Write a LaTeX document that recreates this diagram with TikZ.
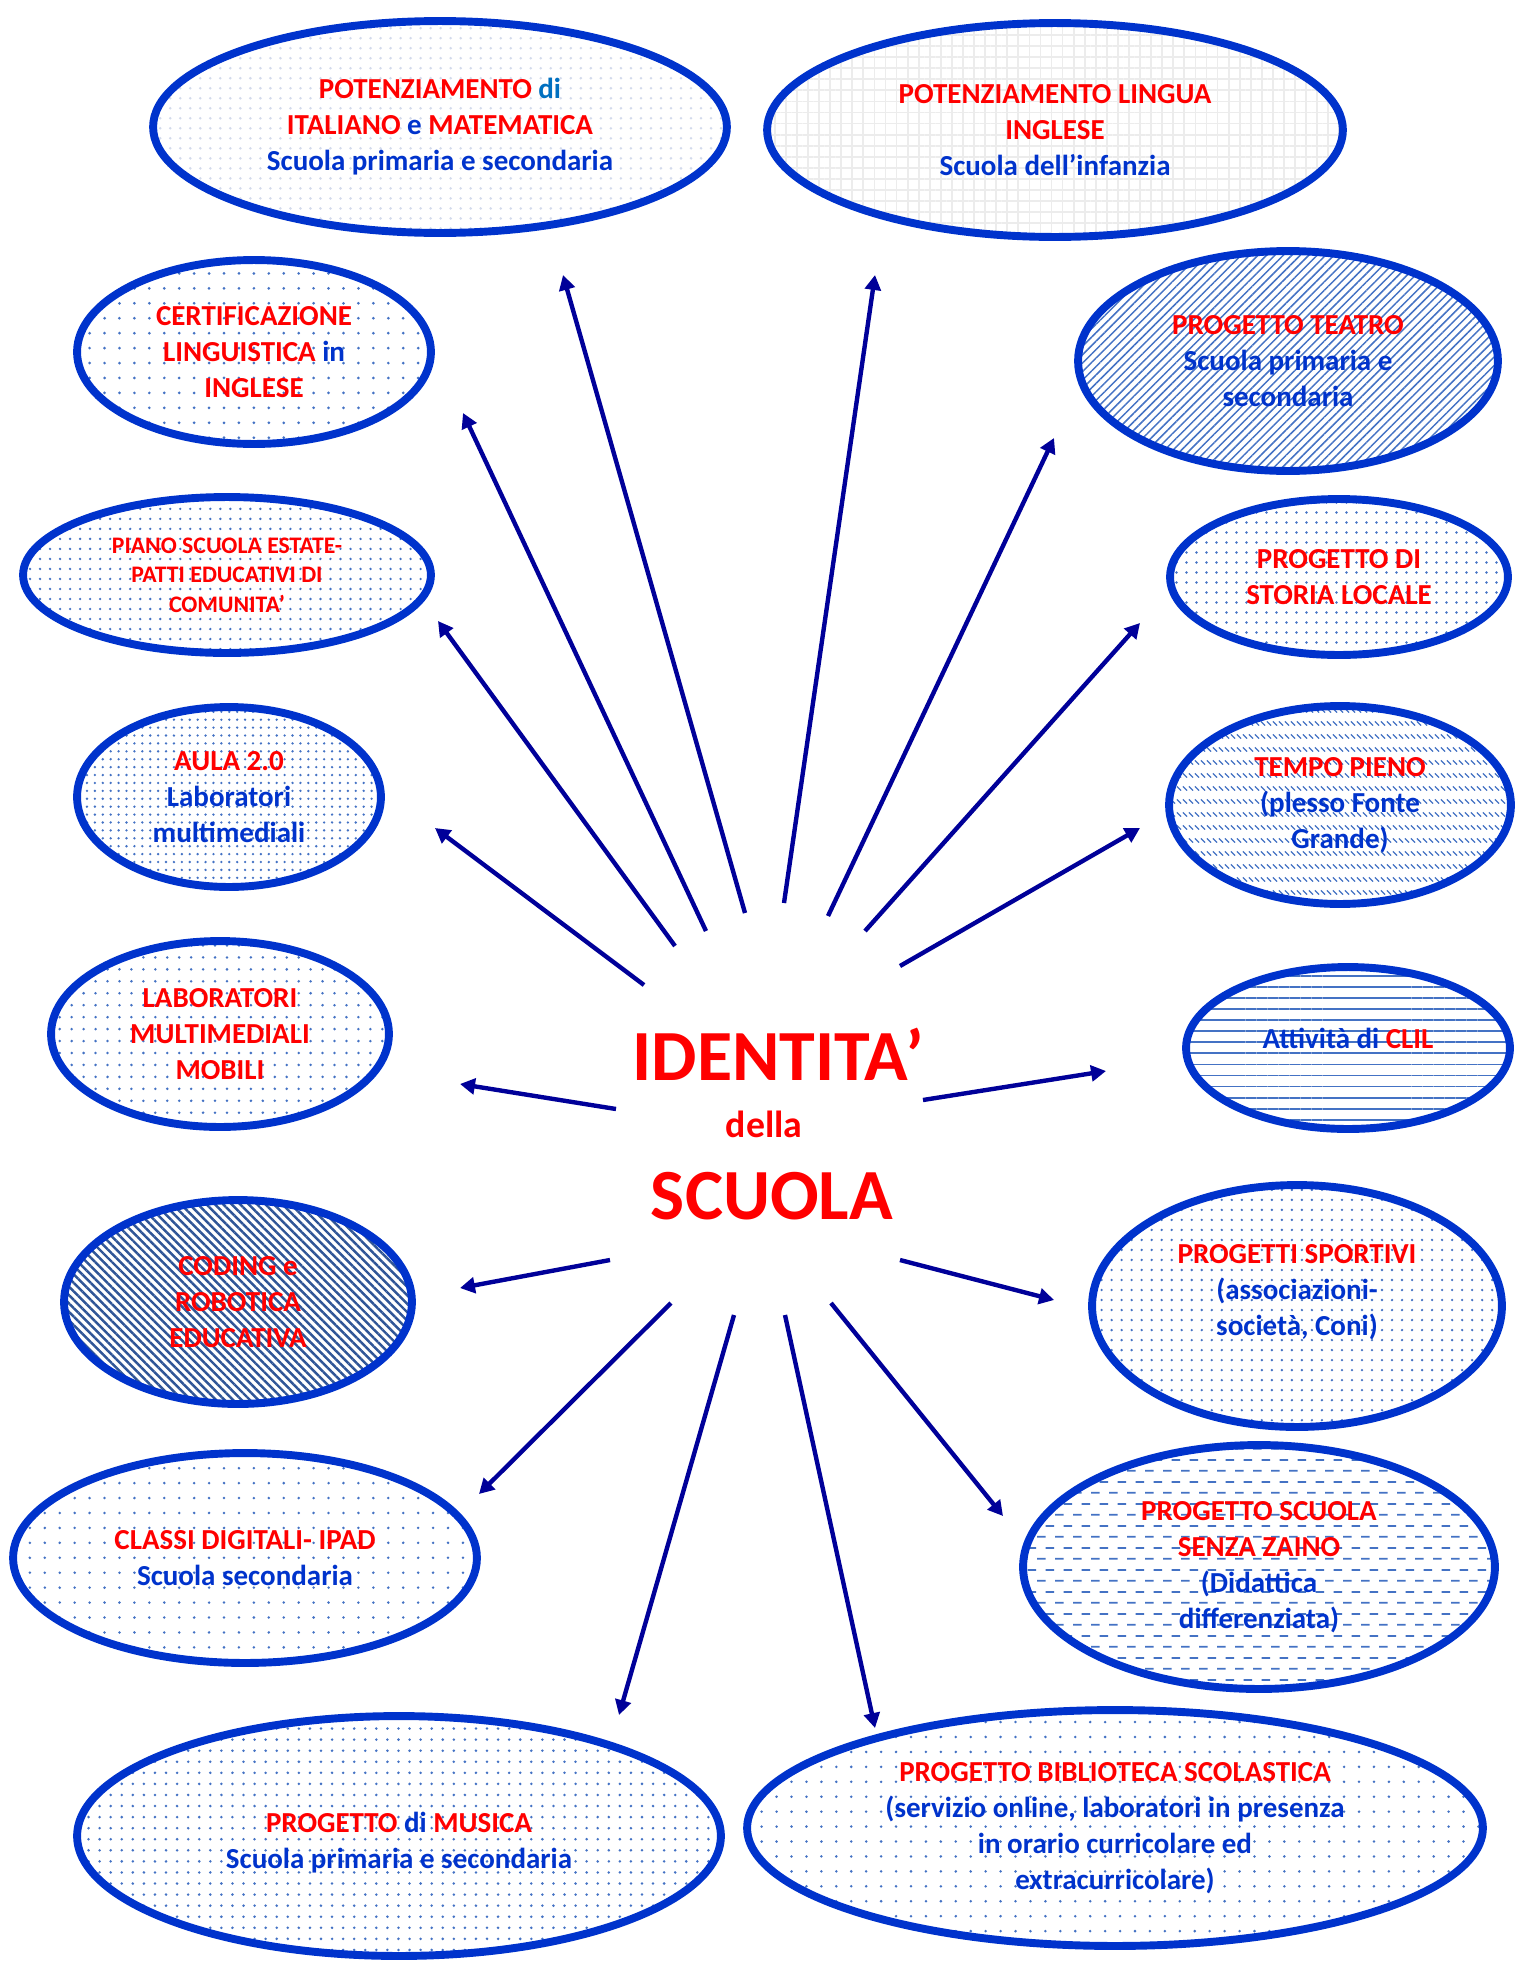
\documentclass[tikz,border=0pt]{standalone}
\usepackage{fontspec}
\setmainfont{Carlito}
\usetikzlibrary{arrows.meta, shapes.geometric, patterns.meta}

\definecolor{Bordo}{RGB}{0, 51, 204}
\definecolor{Rosso}{RGB}{255, 0, 0}
\definecolor{Blu}{RGB}{0, 51, 204}
\definecolor{Azzurro}{RGB}{0, 112, 192}
\definecolor{Freccia}{RGB}{0, 0, 153}
\definecolor{Trama}{RGB}{68, 114, 196}
\definecolor{TramaScura}{RGB}{47, 85, 151}
\definecolor{TramaChiara}{RGB}{210, 218, 236}
\definecolor{Griglia}{RGB}{236, 236, 236}

\newcommand{\rosso}[1]{\textcolor{Rosso}{#1}}

% righe orizzontali tratteggiate, sfalsate
\tikzdeclarepattern{
  name=trattini,
  type=uncolored,
  bottom left={(0pt,0pt)},
  top right={(10pt,12.6pt)},
  tile size={(10pt,12.6pt)},
  code={
    \draw[line width=1pt] (0pt,3.15pt) -- (5pt,3.15pt);
    \draw[line width=1pt] (5pt,9.45pt) -- (10pt,9.45pt);
  }
}

% trattini obliqui in righe
\tikzdeclarepattern{
  name=trattiobliqui,
  type=uncolored,
  bottom left={(0pt,0pt)},
  top right={(3.4pt,7.2pt)},
  tile size={(3.4pt,7.2pt)},
  code={
    \draw[line width=0.75pt] (0.5pt,5pt) -- (2.9pt,2.6pt);
  }
}

\begin{document}
\begin{tikzpicture}[
    x=0.02cm, y=-0.02cm,
    every node/.style={align=center, text=Blu,
                       font=\bfseries\fontsize{16.5}{20.5}\selectfont},
    progetto/.style={ellipse, draw=Bordo, line width=4.5pt, inner sep=0pt},
    assi/.style 2 args={minimum width=#1*0.04cm, minimum height=#2*0.04cm},
    freccia/.style={-{Triangle[length=8.5pt, width=9pt]}, Freccia, line width=2.5pt},
    titolo/.style={text=Rosso, font=\bfseries\fontsize{41}{41}\selectfont}
]
\path[fill=white, use as bounding box] (0,0) rectangle (1516,1961);

% progetti a sinistra e in alto
\node[progetto, assi={287}{106}, pattern={Dots[distance=5.7pt, radius=0.8pt]}, pattern color=TramaChiara] (italiano) at (440,127)
  {\rosso{POTENZIAMENTO} \textcolor{Azzurro}{di}\\ \rosso{ITALIANO} e \rosso{MATEMATICA}\\ Scuola primaria e secondaria};
\node[progetto, assi={288}{107}, pattern={Hatch[distance=6.3pt, line width=1pt]}, pattern color=Griglia] (inglese) at (1055,130)
  {\rosso{POTENZIAMENTO LINGUA}\\ \rosso{INGLESE}\\ Scuola dell’infanzia};
\node[progetto, assi={177}{92}, pattern={Dots[distance=8.5pt, radius=0.85pt]}, pattern color=Trama] (certificazione) at (254,352)
  {\rosso{CERTIFICAZIONE}\\ \rosso{LINGUISTICA} in\\ \rosso{INGLESE}};
\node[progetto, assi={204}{78}, pattern={Dots[distance=5.7pt, radius=0.75pt]}, pattern color=Trama,
      font=\bfseries\fontsize{13.5}{16.7}\selectfont] (estate) at (227,575)
  {\rosso{PIANO SCUOLA ESTATE-}\\ \rosso{PATTI EDUCATIVI DI}\\ \rosso{COMUNITA’}};
\node[progetto, assi={152}{90}, pattern={Dots[distance=4.5pt, radius=0.75pt]}, pattern color=Trama] (aula) at (229,797)
  {\rosso{AULA 2.0}\\ Laboratori\\ multimediali};
\node[progetto, assi={169}{93}, pattern={Dots[distance=6.8pt, radius=0.8pt]}, pattern color=Trama] (mobili) at (220,1034)
  {\rosso{LABORATORI}\\ \rosso{MULTIMEDIALI}\\ \rosso{MOBILI}};
\node[progetto, assi={174}{102}, pattern={Lines[angle=-45, distance=3.4pt, line width=1.4pt]}, pattern color=TramaScura] (coding) at (238,1302)
  {\rosso{CODING e}\\ \rosso{ROBOTICA}\\ \rosso{EDUCATIVA}};
\node[progetto, assi={232}{105}, pattern={Dots[distance=8.5pt, radius=0.8pt]}, pattern color=Trama] (digitali) at (245,1558)
  {\rosso{CLASSI DIGITALI- IPAD}\\ Scuola secondaria};
\node[progetto, assi={322}{120}, pattern={Dots[distance=6.3pt, radius=0.8pt]}, pattern color=Trama] (musica) at (399,1836)
  {\mbox{}\\[-1pt]\rosso{PROGETTO} di \rosso{MUSICA}\\ Scuola primaria e secondaria};

% progetti a destra
\node[progetto, assi={210}{110}, pattern={Lines[angle=45, distance=3.4pt, line width=0.85pt]}, pattern color=Trama] (teatro) at (1288,361)
  {\rosso{PROGETTO TEATRO}\\ Scuola primaria e\\ secondaria};
\node[progetto, assi={169}{78}, pattern={Dots[distance=5.4pt, radius=0.8pt]}, pattern color=Trama] (storia) at (1339,577)
  {\rosso{PROGETTO DI}\\ \rosso{STORIA LOCALE}};
\node[progetto, assi={171}{99}, pattern=trattiobliqui, pattern color=Trama] (tempo) at (1340,805)
  {\rosso{TEMPO PIENO}\\ (plesso Fonte\\ Grande)};
\node[progetto, assi={162}{81}, pattern={Lines[angle=0, distance=6.3pt, line width=1pt]}, pattern color=Trama] (clil) at (1348,1048)
  {Attività di \rosso{CLIL}\\[-10pt]\mbox{}};
\node[progetto, assi={205}{121}, pattern={Dots[distance=5.7pt, radius=0.75pt]}, pattern color=Trama] (sport) at (1297,1306)
  {\rosso{PROGETTI SPORTIVI}\\ (associazioni-\\ società, Coni)\\[-2pt]\mbox{}};
\node[progetto, assi={236}{122}, pattern=trattini, pattern color=Trama] (zaino) at (1259,1567)
  {\rosso{PROGETTO SCUOLA}\\ \rosso{SENZA ZAINO}\\ (Didattica\\ differenziata)};
\node[progetto, assi={368}{118}, pattern={Dots[distance=8.5pt, radius=0.8pt]}, pattern color=Trama] (biblioteca) at (1115,1828)
  {\rosso{PROGETTO BIBLIOTECA SCOLASTICA}\\ (servizio online, laboratori in presenza\\ in orario curricolare ed\\ extracurricolare)};

% centro
\node[titolo] (identita) at (778,1054) {IDENTITA’};
\node[titolo, font=\bfseries\fontsize{21.5}{21.5}\selectfont] (della) at (764,1124) {della};
\node[titolo] (scuola) at (772,1196) {SCUOLA};

% estremi delle frecce
\coordinate (s1) at (745,913);   \coordinate (e1) at (563,275);
\coordinate (s2) at (784,903);   \coordinate (e2) at (875,275);
\coordinate (s3) at (706,931);   \coordinate (e3) at (463,413);
\coordinate (s4) at (828,916);   \coordinate (e4) at (1054,438);
\coordinate (s5) at (675,946);   \coordinate (e5) at (438,621);
\coordinate (s6) at (865,931);   \coordinate (e6) at (1140,623);
\coordinate (s7) at (644,985);   \coordinate (e7) at (435,828);
\coordinate (s8) at (900,966);   \coordinate (e8) at (1140,828);
\coordinate (s9) at (616,1109);  \coordinate (e9) at (460,1084);
\coordinate (s10) at (923,1100); \coordinate (e10) at (1106,1071);
\coordinate (s11) at (610,1260); \coordinate (e11) at (460,1288);
\coordinate (s12) at (900,1260); \coordinate (e12) at (1054,1300);
\coordinate (s13) at (671,1303); \coordinate (e13) at (479,1494);
\coordinate (s14) at (831,1303); \coordinate (e14) at (1003,1516);
\coordinate (s15) at (734,1315); \coordinate (e15) at (619,1715);
\coordinate (s16) at (785,1315); \coordinate (e16) at (875,1728);

\draw[freccia] (s1) -- (e1);
\draw[freccia] (s2) -- (e2);
\draw[freccia] (s3) -- (e3);
\draw[freccia] (s4) -- (e4);
\draw[freccia] (s5) -- (e5);
\draw[freccia] (s6) -- (e6);
\draw[freccia] (s7) -- (e7);
\draw[freccia] (s8) -- (e8);
\draw[freccia] (s9) -- (e9);
\draw[freccia] (s10) -- (e10);
\draw[freccia] (s11) -- (e11);
\draw[freccia] (s12) -- (e12);
\draw[freccia] (s13) -- (e13);
\draw[freccia] (s14) -- (e14);
\draw[freccia] (s15) -- (e15);
\draw[freccia] (s16) -- (e16);
\end{tikzpicture}
\end{document}
